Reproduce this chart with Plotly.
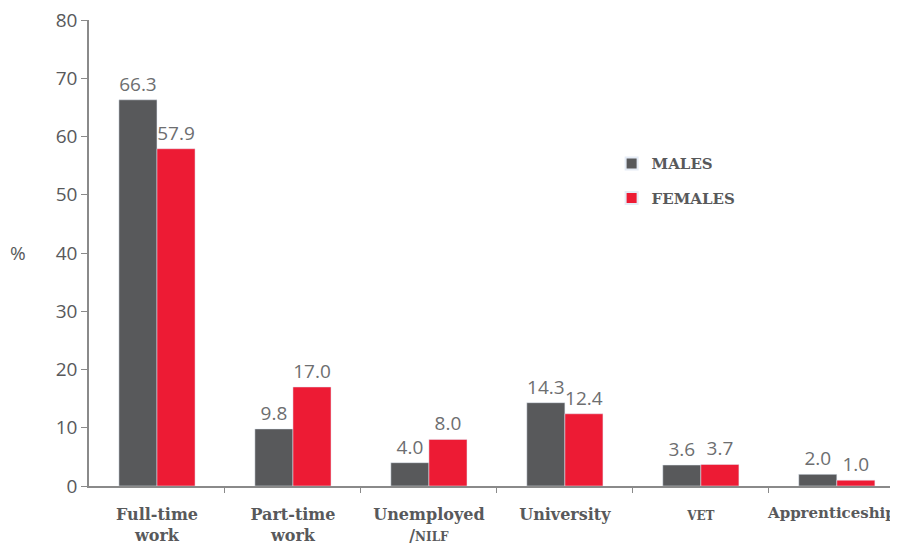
import plotly.graph_objects as go

categories = ["Full-time<br>work", "Part-time<br>work", "Unemployed<br>/<span style='font-size:12px'>NILF</span>",
              "University", "<span style='font-size:12px'>VET</span>", "Apprenticeship"]
males = [66.3, 9.8, 4.0, 14.3, 3.6, 2.0]
females = [57.9, 17.0, 8.0, 12.4, 3.7, 1.0]
y_ticks = [0, 10, 20, 30, 40, 50, 60, 70, 80]
boundaries = [0.5, 1.5, 2.5, 3.5, 4.5]

grey = "#58595B"
red = "#ED1B34"
text_col = "#58595B"
num_font = "Open Sans"
lab_font = "DejaVu Serif"

# last category label sits at the right edge of the page, so draw it as an annotation
ticktext = categories[:-1] + [""]

fig = go.Figure()
fig.add_trace(go.Bar(name="<b>MALES</b>", x=list(range(6)), y=males, marker_color=grey,
                     legendgroup="m",
                     text=[f"{v:.1f}" for v in males], textposition="outside",
                     textfont=dict(family=num_font, size=19, color="#6d6e70"), cliponaxis=False))
fig.add_trace(go.Bar(name="<b>FEMALES</b>", x=list(range(6)), y=females, marker_color=red,
                     legendgroup="f",
                     text=[f"{v:.1f}" for v in females], textposition="outside",
                     textfont=dict(family=num_font, size=19, color="#6d6e70"), cliponaxis=False))
# invisible trace to activate the boundary-tick axis
fig.add_trace(go.Scatter(x=[0], y=[0], xaxis="x2", mode="markers", marker=dict(opacity=0),
                         showlegend=False, hoverinfo="skip"))

xrange = [-0.5, 5.45]
fig.update_layout(
    width=890, height=536,
    margin=dict(l=81, r=0, t=12, b=58),
    paper_bgcolor="white", plot_bgcolor="white",
    barmode="group", bargap=0.44, bargroupgap=0,
    showlegend=True,
    legend=dict(x=0.646, y=0.727, xanchor="left", yanchor="top",
                font=dict(family=lab_font, size=15, color=text_col),
                itemsizing="constant", tracegroupgap=12, bgcolor="rgba(0,0,0,0)"),
    xaxis=dict(
        tickmode="array", tickvals=list(range(6)), ticktext=ticktext,
        range=xrange, ticks="", automargin=False, ticklabeloverflow="allow",
        ticklabelstandoff=13,
        showline=True, linecolor="#8a8a8a", linewidth=1.5,
        showgrid=False, zeroline=False,
        tickfont=dict(family=lab_font, size=16, color=text_col, weight="bold"),
    ),
    xaxis2=dict(
        overlaying="x", side="bottom", range=xrange, tickmode="array", tickvals=boundaries,
        ticks="outside", ticklen=6, tickcolor="#8a8a8a", showticklabels=False,
        showline=False, showgrid=False, zeroline=False, automargin=False,
    ),
    yaxis=dict(
        range=[0, 80], tickvals=y_ticks, ticks="outside", ticklen=6, automargin=False,
        ticklabeloverflow="allow",
        tickcolor="#8a8a8a", showline=True, linecolor="#8a8a8a", linewidth=1.5,
        showgrid=False, zeroline=False,
        tickfont=dict(family=num_font, size=19, color=text_col),
    ),
    annotations=[
        dict(text="%", x=(18 - 89) / 809, y=(486 - 253) / 466, xref="paper", yref="paper",
             showarrow=False, xanchor="center", yanchor="middle",
             font=dict(family=num_font, size=19, color=text_col)),
        dict(text="<b>" + categories[-1] + "</b>", x=1, y=0, xref="paper", yref="paper",
             xanchor="right", yanchor="top", yshift=-16, showarrow=False,
             font=dict(family=lab_font, size=15, color=text_col)),
    ],
)

fig.write_html("out.html")
